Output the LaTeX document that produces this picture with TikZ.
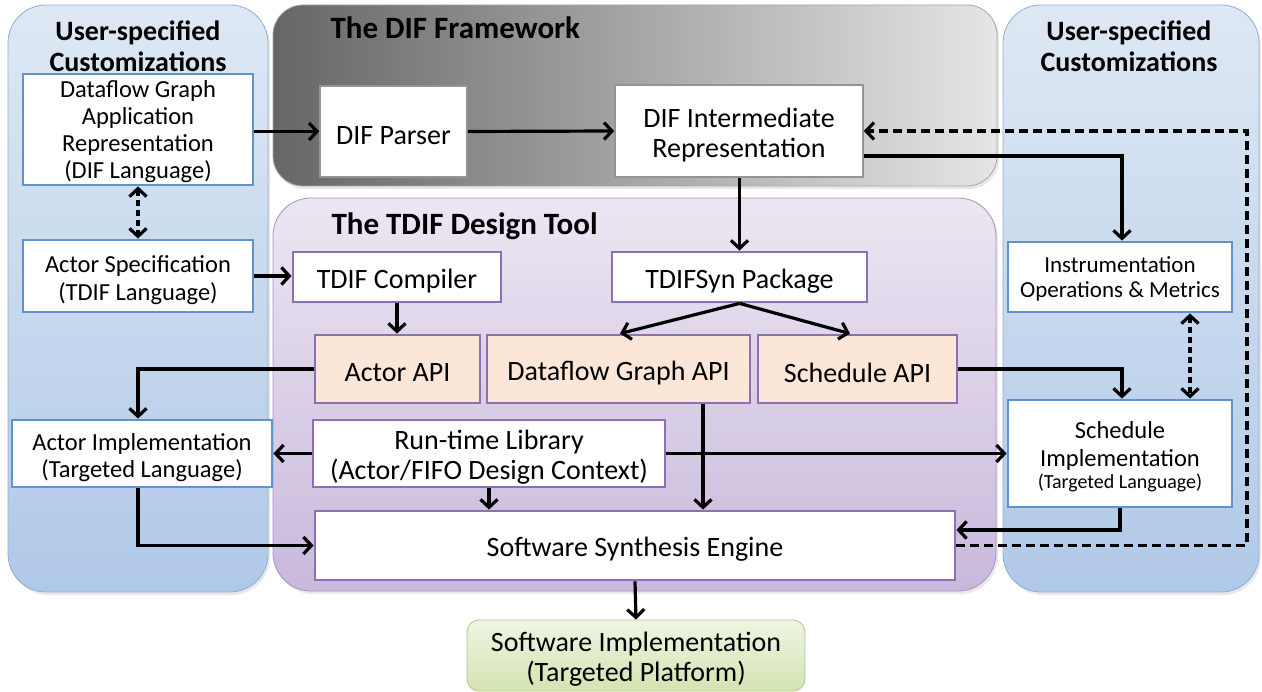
\documentclass[tikz,border=0pt]{standalone}
\usepackage{fontspec}
\setmainfont{Carlito}
\usetikzlibrary{arrows.meta,shadows}
\definecolor{bluetop}{HTML}{DEE8F4}
\definecolor{bluebot}{HTML}{B0C9E8}
\definecolor{blueedge}{HTML}{8DADD5}
\definecolor{boxblue}{HTML}{5E93CE}
\definecolor{lavtop}{HTML}{ECE6F2}
\definecolor{lavbot}{HTML}{C8B9DC}
\definecolor{lavedge}{HTML}{A493C0}
\definecolor{boxpurple}{HTML}{8E70B2}
\definecolor{peach}{HTML}{FBE6D8}
\definecolor{greentop}{HTML}{EFF5E3}
\definecolor{greenbot}{HTML}{D3E3B1}
\definecolor{greenedge}{HTML}{AFC591}
\tikzset{
  panel/.style={rounded corners=38pt, draw=#1, line width=0.8pt,
    drop shadow={opacity=0.18, shadow xshift=2pt, shadow yshift=-3pt}},
  utitle/.style={font=\fontsize{28}{31}\selectfont\bfseries, align=center},
  ftitle/.style={font=\fontsize{31}{34}\selectfont\bfseries, anchor=base west},
  lbl/.style={font=\fontsize{28}{30}\selectfont, align=center, inner sep=0pt, yshift=-4pt},
  ulbl/.style={font=\fontsize{24.5}{27.5}\selectfont, align=center, inner sep=0pt, yshift=-4pt},
  small/.style={font=\fontsize{23}{25}\selectfont, align=center, inner sep=0pt, yshift=-2pt},
  tiny/.style={font=\fontsize{20}{22}\selectfont, align=center, inner sep=0pt},
  userbox/.style={draw=boxblue, line width=2.8pt, fill=white},
  toolbox/.style={draw=boxpurple, line width=2.8pt, fill=white},
  apibox/.style={draw=boxpurple, line width=2.8pt, fill=peach},
  difbox/.style={draw=black!42, line width=1.6pt, fill=white},
  conn/.style={line width=3.2pt, -{Straight Barb[length=8pt,width=17pt]}},
  dconn/.style={conn, dash pattern=on 9pt off 5pt},
  ddconn/.style={line width=3.2pt, dash pattern=on 6pt off 4pt,
    {Straight Barb[length=8pt,width=17pt]}-{Straight Barb[length=8pt,width=17pt]}}
}
\begin{document}
\begin{tikzpicture}[x=1pt,y=-1pt]
\useasboundingbox[fill=white] (0,0) rectangle (1262,692);

% background panels
\shade[panel=blueedge, top color=bluetop, bottom color=bluebot] (8,5) rectangle (268,592);
\shade[panel=blueedge, top color=bluetop, bottom color=bluebot] (1003,5) rectangle (1259,592);
\shade[panel=black!35, rounded corners=30pt, left color=black!60, middle color=black!26, right color=black!10] (273,5) rectangle (997,186);
\shade[panel=lavedge, top color=lavtop, bottom color=lavbot] (273,198) rectangle (996,591);

% panel titles
\node[utitle] (ltitle) at (138,46) {User-specified\\Customizations};
\node[utitle] (rtitle) at (1129,46) {User-specified\\Customizations};
\node[ftitle] (diftitle) at (327,39) {The DIF Framework};
\node[ftitle] (tdiftitle) at (328,235) {The TDIF Design Tool};

% user-specified inputs
\node[userbox, minimum width=230pt, minimum height=111pt] (dgr) at (138,129.5) {};
\node[ulbl, font=\fontsize{24.5}{26.8}\selectfont, yshift=2pt] at (dgr) {Dataflow Graph\\Application\\Representation\\(DIF Language)};
\node[userbox, minimum width=230pt, minimum height=72pt] (aspec) at (138,276) {};
\node[ulbl] at (aspec) {Actor Specification\\(TDIF Language)};

% DIF framework
\node[difbox, minimum width=147pt, minimum height=91pt] (parser) at (393.5,131.5) {};
\node[lbl] at (parser) {DIF Parser};
\node[difbox, minimum width=248pt, minimum height=92pt] (difir) at (739,131) {};
\node[lbl] at (difir) {DIF Intermediate\\Representation};

% TDIF design tool
\node[toolbox, minimum width=208pt, minimum height=50pt] (tdifc) at (397,277) {};
\node[lbl] at (tdifc) {TDIF Compiler};
\node[toolbox, minimum width=255pt, minimum height=50pt] (tdifsyn) at (739.5,277) {};
\node[lbl] at (tdifsyn) {TDIFSyn Package};
\node[apibox, minimum width=165pt, minimum height=68pt] (actorapi) at (397.5,369) {};
\node[lbl] at (actorapi) {Actor API};
\node[apibox, minimum width=263pt, minimum height=68pt] (dfgapi) at (618.5,369) {};
\node[lbl] at (dfgapi) {Dataflow Graph API};
\node[apibox, minimum width=199pt, minimum height=68pt] (schedapi) at (857.5,369) {};
\node[lbl] at (schedapi) {Schedule API};
\node[toolbox, minimum width=352pt, minimum height=67pt] (rtlib) at (489,453.5) {};
\node[lbl] at (rtlib) {Run-time Library\\(Actor/FIFO Design Context)};
\node[toolbox, minimum width=640pt, minimum height=69pt] (sse) at (635,545.5) {};
\node[lbl] at (sse) {Software Synthesis Engine};

% user-specified implementations
\node[userbox, minimum width=260pt, minimum height=67pt] (actimpl) at (142,453.5) {};
\node[ulbl] at (actimpl) {Actor Implementation\\(Targeted Language)};
\node[userbox, minimum width=224pt, minimum height=70pt] (instr) at (1120,277) {};
\node[small] at (instr) {Instrumentation\\Operations \& Metrics};
\node[userbox, minimum width=224pt, minimum height=107pt] (schedimpl) at (1120,453.5) {};
\node[ulbl, yshift=2pt] at ([yshift=9.5pt]schedimpl) {Schedule\\Implementation};
\node[tiny] at ([yshift=-29.5pt]schedimpl) {(Targeted Language)};

% output
\node[draw=greenedge, line width=0.8pt, rounded corners=12pt, top color=greentop,
  bottom color=greenbot, minimum width=338pt, minimum height=71pt] (swimpl) at (636,655.5) {};
\node[lbl] at (swimpl) {Software Implementation\\(Targeted Platform)};

% helper points for offset connectors
\coordinate (dc) at (1247,131);
\coordinate (dfgout) at ([xshift=84.5pt]dfgapi.south);
\coordinate (instrin) at ([xshift=2pt]instr.north);
\coordinate (schin) at ([xshift=2pt]schedimpl.north);
\coordinate (schout) at (schedimpl.south);
\coordinate (instrlink) at ([xshift=70pt]instr.south);
\coordinate (schlink) at ([xshift=70pt]schedimpl.north);
\coordinate (irout) at ([yshift=-25pt]difir.east);
\coordinate (dfgin) at ([xshift=-119.5pt]tdifsyn.south |- dfgapi.north);
\coordinate (schapiin) at ([xshift=110.5pt]tdifsyn.south |- schedapi.north);
\coordinate (actin) at ([xshift=-4pt]actimpl.north);
\coordinate (actout) at ([xshift=-4pt]actimpl.south);

% connectors
\draw[conn] (dgr.east |- parser.west) -- (parser.west);
\draw[conn] (parser.east) -- (difir.west);
\draw[conn] (tdifsyn.north |- difir.south) -- (tdifsyn.north);
\draw[conn] (irout) -| (instrin);
\draw[dconn] (sse.east) -| (dc) -- (difir.east);
\draw[ddconn] (dgr.south) -- (aspec.north);
\draw[conn] (aspec.east) -- (aspec.east -| tdifc.west);
\draw[conn] (tdifc.south) -- (tdifc.south |- actorapi.north);
\draw[conn] (tdifsyn.south) -- (dfgin);
\draw[conn] (tdifsyn.south) -- (schapiin);
\draw[conn] (actorapi.west) -| (actin);
\draw[conn] (rtlib.west) -- (actimpl.east);
\draw[conn] (rtlib.east) -- (schedimpl.west);
\draw[conn] (schedapi.east) -| (schin);
\draw[ddconn] (instrlink) -- (schlink);
\draw[conn] (schout) |- ([yshift=15.5pt]sse.east);
\draw[conn] (dfgout) -- (dfgout |- sse.north);
\draw[conn] (rtlib.south) -- (rtlib.south |- sse.north);
\draw[conn] (actout) |- (sse.west);
\draw[conn] (sse.south) -- (swimpl.north);
\end{tikzpicture}
\end{document}
